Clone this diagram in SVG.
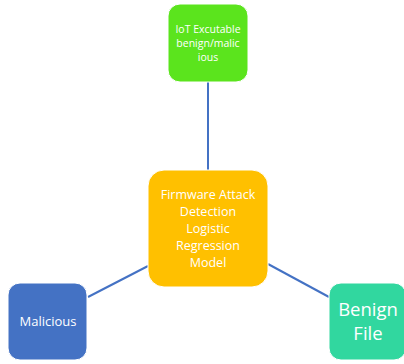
<svg xmlns="http://www.w3.org/2000/svg" width="404" height="364" viewBox="0 0 404 364">
<style>
.box{stroke:#ffffff;stroke-width:1}
.t{font-family:"Open Sans","Liberation Sans",sans-serif;fill:#ffffff;text-anchor:middle}
.c{stroke:#4472C4;stroke-width:2;fill:none}
</style>
<rect width="404" height="364" fill="#ffffff"/>
<g id="connectors">
<line class="c" x1="208" y1="82" x2="208" y2="170"/>
<line class="c" x1="148" y1="266" x2="88" y2="297"/>
<line class="c" x1="268" y1="264" x2="329" y2="297"/>
</g>
<g id="iot">
<rect class="box" x="168" y="4" width="80" height="78" rx="12" fill="#5BE41D"/>
<text class="t" font-size="10.5" x="208" y="33">IoT Excutable</text>
<text class="t" font-size="10.5" x="208" y="47">benign/malic</text>
<text class="t" font-size="10.5" x="208" y="61">ious</text>
</g>
<g id="model">
<rect class="box" x="148" y="170" width="120" height="117" rx="16" fill="#FFC000"/>
<text class="t" font-size="12.5" x="208" y="199">Firmware Attack</text>
<text class="t" font-size="12.5" x="208" y="216">Detection</text>
<text class="t" font-size="12.5" x="208" y="233">Logistic</text>
<text class="t" font-size="12.5" x="208" y="250">Regression</text>
<text class="t" font-size="12.5" x="208" y="267">Model</text>
</g>
<g id="malicious">
<rect class="box" x="8" y="283" width="79" height="77" rx="12" fill="#4472C4"/>
<text class="t" font-size="13" x="48" y="326">Malicious</text>
</g>
<g id="benign">
<rect class="box" x="329" y="283" width="77" height="77" rx="12" fill="#31D79F"/>
<text class="t" font-size="18.5" x="368" y="316">Benign</text>
<text class="t" font-size="18.5" x="368" y="340">File</text>
</g>
</svg>
